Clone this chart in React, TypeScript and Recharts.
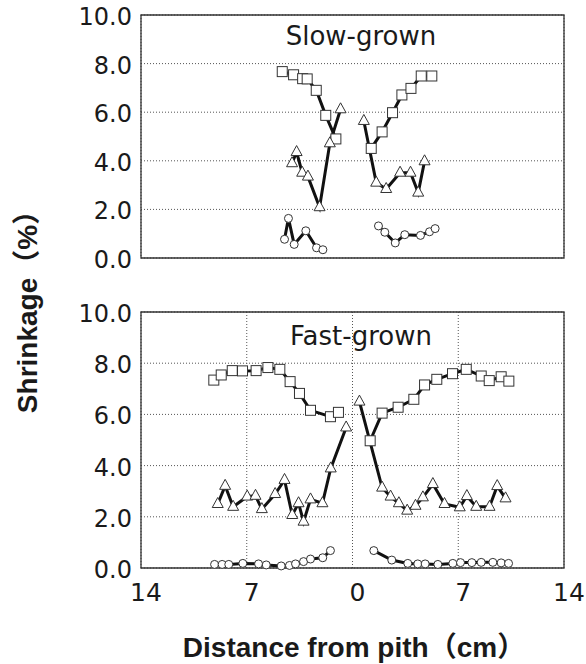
import React from 'react';
import { ComposedChart, Line, XAxis, YAxis, CartesianGrid, ReferenceArea } from 'recharts';

// Distance from pith (cm); negative = one side of the pith, positive = the other side.
// Slow-grown
const slowSqLeftX = [-4.65, -3.9, -3.3, -3.0, -2.4, -1.77, -1.1];
const slowSqLeftY = [7.67, 7.54, 7.38, 7.37, 6.9, 5.87, 4.9];
const slowTriLeftX = [-4.0, -3.7, -3.33, -2.95, -2.18, -1.5, -0.79];
const slowTriLeftY = [3.9, 4.36, 3.51, 3.35, 2.09, 4.72, 6.12];
const slowCirLeftX = [-4.5, -4.24, -3.86, -3.09, -2.38, -1.96];
const slowCirLeftY = [0.77, 1.63, 0.56, 1.12, 0.42, 0.34];
const slowSqRightX = [1.24, 1.96, 2.65, 3.27, 3.87, 4.55, 5.25];
const slowSqRightY = [4.51, 5.19, 5.98, 6.71, 6.98, 7.49, 7.49];
const slowTriRightX = [0.75, 1.57, 2.23, 3.15, 3.84, 4.35, 4.77];
const slowTriRightY = [5.64, 3.1, 2.84, 3.51, 3.51, 2.69, 3.98];
const slowCirRightX = [1.72, 2.14, 2.83, 3.46, 4.5, 5.1, 5.47];
const slowCirRightY = [1.32, 1.06, 0.62, 0.96, 0.93, 1.08, 1.21];

// Fast-grown
const fastSqLeftX = [-9.18, -8.69, -7.96, -7.28, -6.38, -5.6, -4.81, -4.13, -3.51, -2.78, -1.46, -0.93];
const fastSqLeftY = [7.34, 7.54, 7.71, 7.7, 7.71, 7.83, 7.76, 7.28, 6.82, 6.16, 5.91, 6.08];
const fastTriLeftX = [-8.92, -8.43, -7.9, -6.97, -6.42, -6.0, -5.12, -4.5, -3.99, -3.57, -3.24, -2.78, -1.99, -1.44, -0.42];
const fastTriLeftY = [2.5, 3.21, 2.39, 2.79, 2.82, 2.3, 2.89, 3.44, 2.07, 2.53, 1.81, 2.68, 2.53, 3.89, 5.49];
const fastCirLeftX = [-9.13, -8.63, -8.19, -7.26, -6.22, -5.71, -4.72, -4.17, -3.77, -3.24, -2.78, -1.97, -1.46];
const fastCirLeftY = [0.14, 0.14, 0.14, 0.18, 0.16, 0.12, 0.08, 0.1, 0.16, 0.25, 0.35, 0.4, 0.68];
const fastSqRightX = [1.17, 1.96, 3.02, 4.06, 4.77, 5.58, 6.62, 7.53, 8.52, 9.05, 9.84, 10.35];
const fastSqRightY = [4.97, 6.05, 6.28, 6.59, 7.15, 7.37, 7.59, 7.76, 7.5, 7.32, 7.47, 7.3];
const fastTriRightX = [0.46, 1.96, 2.52, 3.07, 3.62, 4.17, 4.66, 5.32, 6.09, 7.1, 7.57, 8.19, 9.07, 9.58, 10.13];
const fastTriRightY = [6.5, 3.14, 2.79, 2.53, 2.24, 2.43, 2.76, 3.28, 2.5, 2.37, 2.81, 2.39, 2.39, 3.2, 2.72];
const fastCirRightX = [1.41, 2.6, 3.66, 4.32, 4.81, 5.65, 6.64, 7.15, 7.9, 8.52, 9.29, 9.84, 10.33];
const fastCirRightY = [0.68, 0.31, 0.18, 0.16, 0.16, 0.14, 0.18, 0.21, 0.21, 0.22, 0.22, 0.2, 0.18];

const xTicks = [-14, -7, 0, 7, 14];
const yTicks = [0, 2, 4, 6, 8, 10];

const zip = (xs: number[], ys: number[]) => xs.map((x, i) => ({ x, y: ys[i] }));

const INK = '#1a1a1a';
const MARK = '#333';
const TICK_FONT = "'DejaVu Sans', sans-serif";
const TITLE_FONT = "'Liberation Sans', 'Noto Sans CJK JP', Arial, sans-serif";

const SquareDot = (p: any) => {
  if (p.cx == null || p.cy == null) return null;
  return (
    <rect key={`sq-${p.index}`} x={p.cx - 5} y={p.cy - 5} width={10} height={10}
      fill="#fff" stroke={MARK} strokeWidth={1} />
  );
};
const TriangleDot = (p: any) => {
  if (p.cx == null || p.cy == null) return null;
  const { cx, cy } = p;
  return (
    <polygon key={`tr-${p.index}`}
      points={`${cx},${cy - 6.5} ${cx - 5.5},${cy + 3.5} ${cx + 5.5},${cy + 3.5}`}
      fill="#fff" stroke={MARK} strokeWidth={1} />
  );
};
const CircleDot = (p: any) => {
  if (p.cx == null || p.cy == null) return null;
  return <circle key={`ci-${p.index}`} cx={p.cx} cy={p.cy} r={4} fill="#fff" stroke={MARK} strokeWidth={1} />;
};

const YTick = (p: any) => (
  <text x={p.x} y={p.y} dy="0.42em" textAnchor="end" fontFamily={TICK_FONT} fontSize={24} fill={INK}>
    {Number(p.payload.value).toFixed(1)}
  </text>
);
const XTick = (p: any) => (
  <text x={p.x + 5} y={p.y} dy="0.72em" textAnchor="middle" fontFamily={TICK_FONT} fontSize={25} fill={INK}>
    {Math.abs(p.payload.value)}
  </text>
);

type Series = { data: { x: number; y: number }[]; dot: (p: any) => any };

function Panel(props: { height: number; top: number; xAxisHeight: number; showXTicks: boolean; series: Series[] }) {
  const { height, top, xAxisHeight, showXTicks, series } = props;
  return (
    <ComposedChart width={586} height={height} margin={{ top, right: 22, bottom: 0, left: 0 }}>
      <CartesianGrid stroke="#555" strokeWidth={1} strokeDasharray="1 2" />
      <XAxis
        dataKey="x"
        type="number"
        domain={[-14, 14]}
        ticks={xTicks}
        interval={0}
        allowDataOverflow
        height={xAxisHeight}
        axisLine={false}
        tickLine={false}
        tickSize={0}
        tickMargin={15}
        tick={showXTicks ? <XTick /> : false}
      />
      <YAxis
        type="number"
        domain={[0, 10]}
        ticks={yTicks}
        interval={0}
        width={141}
        axisLine={false}
        tickLine={false}
        tickSize={0}
        tickMargin={9}
        tick={<YTick />}
      />
      <ReferenceArea x1={-14} x2={14} y1={0} y2={10} fill="none" stroke="#333" strokeWidth={1.3} ifOverflow="visible" />
      {series.map((s, i) => (
        <Line
          key={i}
          data={s.data}
          dataKey="y"
          type="linear"
          stroke="#111"
          strokeWidth={3}
          dot={s.dot}
          activeDot={false}
          isAnimationActive={false}
        />
      ))}
    </ComposedChart>
  );
}

const slowSeries: Series[] = [
  { data: zip(slowSqLeftX, slowSqLeftY), dot: SquareDot },
  { data: zip(slowTriLeftX, slowTriLeftY), dot: TriangleDot },
  { data: zip(slowCirLeftX, slowCirLeftY), dot: CircleDot },
  { data: zip(slowSqRightX, slowSqRightY), dot: SquareDot },
  { data: zip(slowTriRightX, slowTriRightY), dot: TriangleDot },
  { data: zip(slowCirRightX, slowCirRightY), dot: CircleDot },
];

const fastSeries: Series[] = [
  { data: zip(fastSqLeftX, fastSqLeftY), dot: SquareDot },
  { data: zip(fastTriLeftX, fastTriLeftY), dot: TriangleDot },
  { data: zip(fastCirLeftX, fastCirLeftY), dot: CircleDot },
  { data: zip(fastSqRightX, fastSqRightY), dot: SquareDot },
  { data: zip(fastTriRightX, fastTriRightY), dot: TriangleDot },
  { data: zip(fastCirRightX, fastCirRightY), dot: CircleDot },
];

export default function App() {
  return (
    <div style={{ position: 'absolute', left: 0, top: 0, width: 586, height: 664, background: '#fff' }}>
      <div style={{ position: 'absolute', left: 0, top: 0 }}>
        <Panel height={285} top={15} xAxisHeight={27} showXTicks={false} series={slowSeries} />
      </div>
      <div style={{ position: 'absolute', left: 0, top: 290 }}>
        <Panel height={374} top={22} xAxisHeight={96} showXTicks={true} series={fastSeries} />
      </div>
      <svg width={586} height={664} style={{ position: 'absolute', left: 0, top: 0, pointerEvents: 'none' }}>
        <text x={361} y={45} textAnchor="middle" fontFamily={TICK_FONT} fontSize={26} fill={INK}>Slow-grown</text>
        <text x={361} y={345} textAnchor="middle" fontFamily={TICK_FONT} fontSize={26} fill={INK}>Fast-grown</text>
        <text x={37} y={305} transform="rotate(-90 37 305)" textAnchor="middle" fontFamily={TITLE_FONT}
          fontWeight="bold" fontSize={28} fill={INK}>Shrinkage（%）</text>
        <text x={354} y={657} textAnchor="middle" fontFamily={TITLE_FONT} fontWeight="bold" fontSize={28}
          fill={INK}>Distance from pith（cm）</text>
      </svg>
    </div>
  );
}
